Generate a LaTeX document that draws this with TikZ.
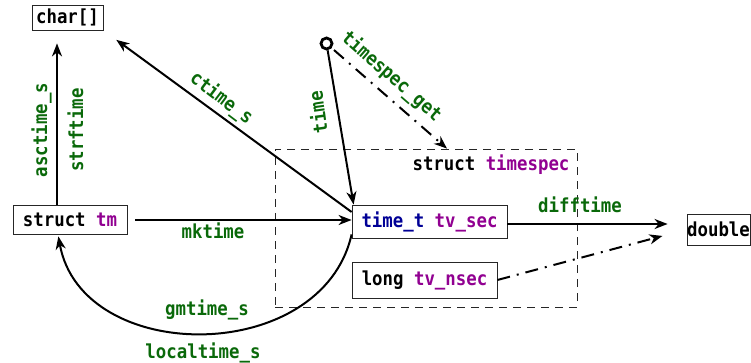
\documentclass[tikz,border=0pt]{standalone}
\usepackage{fontspec}
\setmonofont[FakeStretch=0.9]{DejaVu Sans Mono}
\usetikzlibrary{arrows.meta}
\definecolor{lblgreen}{RGB}{10,105,10}
\definecolor{vpurple}{RGB}{145,0,145}
\definecolor{vblue}{RGB}{0,0,150}
\begin{document}
\begin{tikzpicture}[x=1pt,y=-1pt,
  every node/.style={font=\ttfamily\bfseries\fontsize{19.3}{22}\selectfont, inner sep=0pt},
  box/.style={draw=black!85, line width=0.8pt, fill=white},
  lbl/.style={text=lblgreen, text height=13pt, text depth=3pt},
  arr/.style={line width=2pt, -{Stealth[length=13pt,width=10pt,inset=4pt]}},
  dd/.style={dash pattern=on 13pt off 7pt on 2pt off 7pt},
  grpbox/.style={draw=black!85, line width=0.8pt, dash pattern=on 8pt off 6pt},
  ring/.style={circle, draw, line width=2.8pt, minimum size=11pt, fill=white}
]
\useasboundingbox (0,0) rectangle (751,363);

\node[grpbox, minimum width=302pt, minimum height=158pt] (grp) at (426,228) {};
\node (tslbl) at (491,165) {struct \textcolor{vpurple}{timespec}};

\node[box, minimum width=71pt, minimum height=25pt] (char) at (67.5,17.5) {char[]};
\node[box, minimum width=114pt, minimum height=29pt] (tm) at (70,219.5) {struct \textcolor{vpurple}{tm}};
\node[box, minimum width=155pt, minimum height=33pt] (tsec) at (429.5,221.5) {\textcolor{vblue}{time\_t} \textcolor{vpurple}{tv\_sec}};
\node[box, minimum width=145pt, minimum height=36pt] (nsec) at (424.5,280) {long \textcolor{vpurple}{tv\_nsec}};
\node[box, minimum width=63pt, minimum height=31pt] (dbl) at (718.5,229.5) {double};
\node[ring] (src) at (326.5,43.5) {};

% connectors
\draw[arr, shorten >=13pt] ([xshift=-13pt]tm.north) -- ([xshift=-10.5pt]char.south);
\draw[arr, shorten >=16pt] ([yshift=9.5pt]tsec.west) -- (char.south east);
\draw[arr] (src) -- ([xshift=2pt]tsec.north west);
\draw[arr, dd, shorten <=3pt] (src) -- ([xshift=21pt]grp.north);
\draw[arr, shorten <=8pt] ([yshift=-0.5pt]tm.east) -- ([yshift=-0.5pt]tm.east -| tsec.west);
\draw[arr, shorten >=19pt] ([yshift=-2.5pt]tsec.east) -- ([yshift=-2.5pt]tsec.east -| dbl.west);
\draw[arr, dd, shorten >=25pt] (nsec.east) -- (dbl.west);
\draw[arr, shorten >=2pt] ([yshift=4pt]tsec.south west) .. controls (322,366) and (82,366) .. ([xshift=-12pt]tm.south);

% labels
\node[lbl, rotate=90] (l1) at (42,130) {asctime\_s};
\node[lbl, rotate=90] (l2) at (78,130) {strftime};
\node[lbl, rotate=-37] (l3) at (221,99) {ctime\_s};
\node[lbl, rotate=98] (l4) at (320,112) {time};
\node[lbl, rotate=-41] (l5) at (391,77) {timespec\_get};
\node[lbl] (l6) at (213,233) {mktime};
\node[lbl] (l7) at (580,208) {difftime};
\node[lbl] (l8) at (207,310) {gmtime\_s};
\node[lbl] (l9) at (203,353) {localtime\_s};
\end{tikzpicture}
\end{document}
